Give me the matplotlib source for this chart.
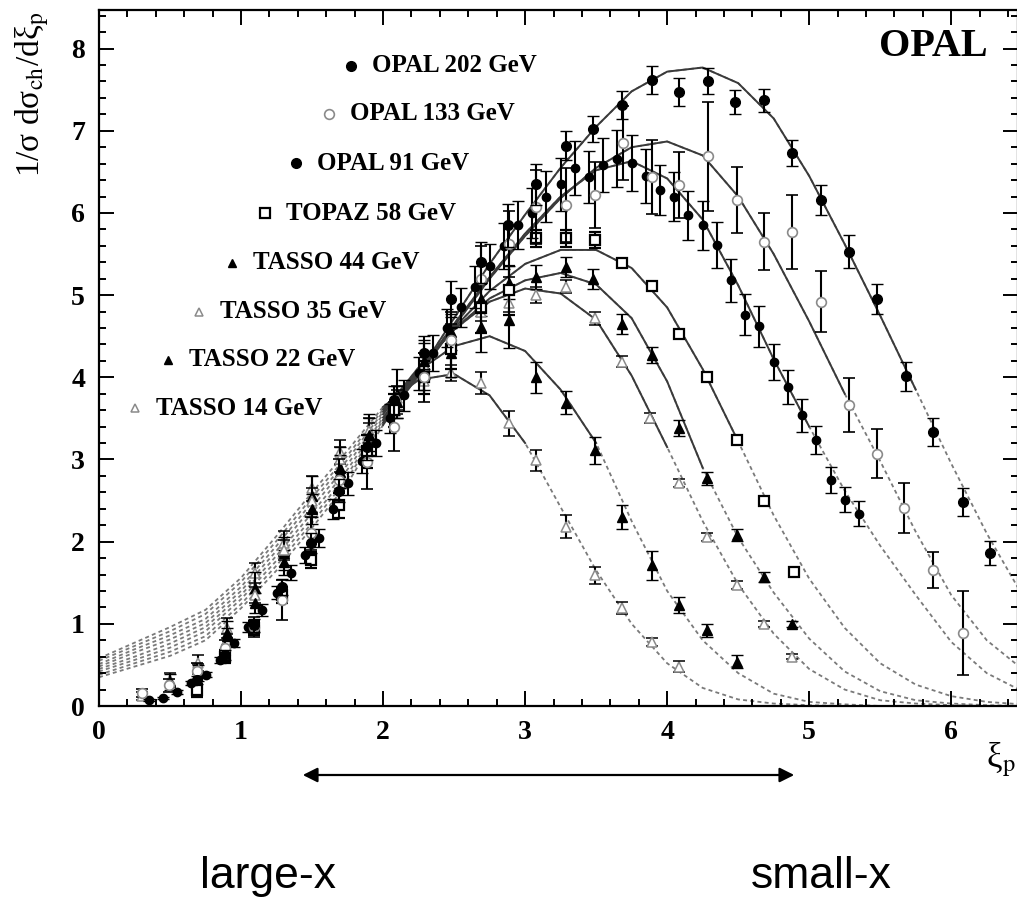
import matplotlib
matplotlib.use('Agg')
import matplotlib.pyplot as plt
from matplotlib.ticker import MultipleLocator

plt.rcParams['font.family'] = ['Liberation Serif', 'DejaVu Serif']
plt.rcParams['mathtext.fontset'] = 'stix'

# ---------------- data ----------------
labels = ['OPAL 202 GeV', 'OPAL 133 GeV', 'OPAL 91 GeV', 'TOPAZ 58 GeV',
          'TASSO 44 GeV', 'TASSO 35 GeV', 'TASSO 22 GeV', 'TASSO 14 GeV']

x202 = [0.69, 0.89, 1.09, 1.29, 1.49, 1.69, 1.89, 2.08, 2.29, 2.48, 2.69, 2.88, 3.08, 3.29, 3.48,
        3.68, 3.89, 4.08, 4.29, 4.48, 4.68, 4.88, 5.08, 5.28, 5.48, 5.68, 5.87, 6.08, 6.27]
y202 = [0.32, 0.62, 0.98, 1.45, 1.98, 2.62, 3.15, 3.72, 4.30, 4.95, 5.40, 5.85, 6.35, 6.82, 7.02,
        7.31, 7.62, 7.47, 7.61, 7.35, 7.37, 6.73, 6.16, 5.53, 4.95, 4.01, 3.33, 2.48, 1.86]
e202 = [0.05, 0.06, 0.08, 0.10, 0.12, 0.14, 0.16, 0.18, 0.20, 0.22, 0.25, 0.26, 0.25, 0.18, 0.16,
        0.17, 0.17, 0.17, 0.16, 0.15, 0.14, 0.16, 0.18, 0.20, 0.18, 0.18, 0.17, 0.17, 0.15]

x133 = [0.30, 0.49, 0.69, 0.89, 1.09, 1.29, 1.49, 1.69, 1.89, 2.08, 2.29, 2.48, 2.69, 2.89, 3.08,
        3.29, 3.49, 3.69, 3.89, 4.08, 4.29, 4.49, 4.68, 4.88, 5.08, 5.28, 5.48, 5.67, 5.87, 6.08]
y133 = [0.16, 0.25, 0.42, 0.70, 0.96, 1.29, 2.10, 2.75, 2.97, 3.40, 4.00, 4.45, 5.20, 5.62, 6.07,
        6.10, 6.22, 6.85, 6.44, 6.34, 6.69, 6.16, 5.65, 5.77, 4.92, 3.66, 3.07, 2.41, 1.65, 0.89]
e133 = [0.05, 0.08, 0.10, 0.10, 0.12, 0.24, 0.20, 0.25, 0.33, 0.30, 0.30, 0.35, 0.40, 0.40, 0.45,
        0.45, 0.40, 0.45, 0.45, 0.40, 0.66, 0.40, 0.35, 0.45, 0.37, 0.33, 0.30, 0.30, 0.22, 0.51]

x91 = [0.35, 0.45, 0.55, 0.65, 0.75, 0.85, 0.95, 1.05, 1.15, 1.25, 1.35, 1.45, 1.55, 1.65, 1.75,
       1.85, 1.95, 2.05, 2.15, 2.25, 2.35, 2.45, 2.55, 2.65, 2.75, 2.85, 2.95, 3.05, 3.15, 3.25,
       3.35, 3.45, 3.55, 3.65, 3.75, 3.85, 3.95, 4.05, 4.15, 4.25, 4.35, 4.45, 4.55, 4.65, 4.75,
       4.85, 4.95, 5.05, 5.15, 5.25, 5.35]
y91 = [0.07, 0.10, 0.17, 0.28, 0.38, 0.56, 0.77, 0.96, 1.17, 1.38, 1.62, 1.84, 2.04, 2.40, 2.71,
       2.98, 3.20, 3.50, 3.78, 4.05, 4.30, 4.60, 4.85, 5.10, 5.35, 5.60, 5.85, 6.00, 6.20, 6.35,
       6.55, 6.44, 6.58, 6.66, 6.61, 6.45, 6.28, 6.20, 5.97, 5.85, 5.61, 5.18, 4.76, 4.62, 4.19,
       3.88, 3.54, 3.24, 2.75, 2.51, 2.34]
e91 = [0.01, 0.01, 0.02, 0.02, 0.03, 0.04, 0.05, 0.06, 0.07, 0.08, 0.09, 0.10, 0.11, 0.12, 0.14,
       0.15, 0.16, 0.18, 0.19, 0.20, 0.22, 0.23, 0.24, 0.26, 0.27, 0.28, 0.29, 0.30, 0.31, 0.32,
       0.33, 0.32, 0.33, 0.35, 0.34, 0.33, 0.30, 0.30, 0.30, 0.30, 0.28, 0.26, 0.25, 0.25, 0.22,
       0.21, 0.20, 0.17, 0.16, 0.15, 0.15]

x58 = [0.69, 0.89, 1.09, 1.29, 1.49, 1.69, 1.89, 2.08, 2.29, 2.48, 2.69, 2.89, 3.08, 3.29, 3.49,
       3.68, 3.89, 4.08, 4.28, 4.49, 4.68, 4.89]
y58 = [0.19, 0.60, 0.95, 1.35, 1.78, 2.44, 3.10, 3.60, 4.00, 4.35, 4.84, 5.06, 5.69, 5.69, 5.67,
       5.39, 5.11, 4.53, 4.00, 3.24, 2.49, 1.63]
e58 = [0.08, 0.08, 0.08, 0.10, 0.10, 0.15, 0.20, 0.20, 0.20, 0.25, 0.30, 0.30, 0.10, 0.10, 0.10,
       0.05, 0.05, 0.05, 0.05, 0.05, 0.05, 0.05]

x44 = [0.90, 1.10, 1.30, 1.50, 1.70, 1.90, 2.10, 2.29, 2.48, 2.69, 2.89, 3.08, 3.29, 3.48, 3.68,
       3.89, 4.08, 4.28, 4.49, 4.68, 4.88]
y44 = [0.85, 1.25, 1.75, 2.40, 2.85, 3.30, 3.70, 4.20, 4.55, 4.95, 5.15, 5.22, 5.34, 5.20, 4.65,
       4.27, 3.38, 2.77, 2.08, 1.57, 1.00]
e44 = [0.10, 0.12, 0.15, 0.18, 0.20, 0.20, 0.20, 0.22, 0.22, 0.20, 0.20, 0.15, 0.12, 0.12, 0.12,
       0.10, 0.10, 0.08, 0.07, 0.06, 0.04]

x35 = [0.70, 0.90, 1.10, 1.30, 1.50, 1.70, 1.90, 2.10, 2.29, 2.48, 2.69, 2.89, 3.08, 3.29, 3.49,
       3.68, 3.88, 4.08, 4.28, 4.49, 4.68, 4.88]
y35 = [0.45, 0.80, 1.35, 1.90, 2.50, 3.00, 3.35, 3.75, 4.15, 4.50, 4.80, 4.90, 5.00, 5.10, 4.72,
       4.19, 3.50, 2.71, 2.06, 1.47, 1.00, 0.60]
e35 = [0.06, 0.08, 0.10, 0.12, 0.15, 0.15, 0.15, 0.15, 0.15, 0.15, 0.12, 0.10, 0.10, 0.08, 0.08,
       0.07, 0.06, 0.05, 0.05, 0.05, 0.04, 0.03]

x22 = [0.50, 0.70, 0.90, 1.10, 1.30, 1.50, 1.70, 1.90, 2.10, 2.29, 2.48, 2.69, 2.89, 3.08, 3.29,
       3.49, 3.68, 3.89, 4.08, 4.28, 4.49]
y22 = [0.29, 0.40, 0.89, 1.43, 1.86, 2.55, 2.90, 3.30, 3.80, 4.15, 4.30, 4.61, 4.70, 4.00, 3.69,
       3.11, 2.30, 1.71, 1.23, 0.92, 0.54]
e22 = [0.10, 0.10, 0.15, 0.20, 0.20, 0.25, 0.25, 0.25, 0.30, 0.30, 0.30, 0.30, 0.34, 0.19, 0.14,
       0.16, 0.15, 0.18, 0.10, 0.08, 0.08]

x14 = [0.30, 0.50, 0.70, 0.90, 1.10, 1.30, 1.50, 1.70, 1.90, 2.10, 2.29, 2.48, 2.69, 2.89, 3.08,
       3.29, 3.49, 3.68, 3.89, 4.08]
y14 = [0.12, 0.32, 0.52, 0.95, 1.62, 1.98, 2.65, 3.09, 3.30, 3.70, 3.95, 4.05, 3.93, 3.44, 2.99,
       2.18, 1.59, 1.19, 0.78, 0.48]
e14 = [0.05, 0.08, 0.10, 0.12, 0.12, 0.15, 0.15, 0.15, 0.15, 0.15, 0.15, 0.10, 0.13, 0.15, 0.13,
       0.14, 0.10, 0.07, 0.05, 0.07]

# fitted curves at steps of 0.25
curve_x = [0.0, 0.25, 0.5, 0.75, 1.0, 1.25, 1.5, 1.75, 2.0, 2.25, 2.5, 2.75, 3.0, 3.25, 3.5,
           3.75, 4.0, 4.25, 4.5, 4.75, 5.0, 5.25, 5.5, 5.75, 6.0, 6.25, 6.5]
c202 = [0.35, 0.48, 0.61, 0.80, 1.19, 1.65, 2.17, 2.71, 3.42, 4.05, 4.72, 5.38, 5.98, 6.55, 7.05,
        7.48, 7.72, 7.77, 7.58, 7.15, 6.45, 5.62, 4.75, 3.85, 2.95, 2.10, 1.35]
c133 = [0.38, 0.52, 0.66, 0.85, 1.24, 1.71, 2.23, 2.77, 3.45, 4.02, 4.62, 5.20, 5.72, 6.18, 6.55,
        6.80, 6.87, 6.70, 6.20, 5.50, 4.68, 3.80, 2.98, 2.12, 1.35, 0.80, 0.45]
c91 = [0.42, 0.56, 0.71, 0.91, 1.30, 1.77, 2.29, 2.82, 3.48, 4.05, 4.65, 5.22, 5.75, 6.20, 6.52,
       6.63, 6.42, 5.92, 5.12, 4.22, 3.40, 2.62, 1.95, 1.35, 0.78, 0.40, 0.18]
c58 = [0.45, 0.60, 0.76, 0.96, 1.35, 1.83, 2.35, 2.88, 3.51, 4.08, 4.60, 5.05, 5.38, 5.55, 5.55,
       5.33, 4.85, 4.10, 3.22, 2.32, 1.55, 0.95, 0.52, 0.26, 0.12, 0.05, 0.02]
c44 = [0.48, 0.65, 0.81, 1.01, 1.40, 1.89, 2.42, 2.94, 3.55, 4.10, 4.58, 4.96, 5.18, 5.27, 5.13,
       4.72, 3.95, 2.90, 2.05, 1.38, 0.82, 0.42, 0.18, 0.07, 0.03, 0.01, 0.00]
c35 = [0.51, 0.69, 0.86, 1.06, 1.45, 1.95, 2.48, 3.00, 3.58, 4.12, 4.58, 4.92, 5.08, 5.02, 4.70,
       4.02, 3.15, 2.25, 1.48, 0.88, 0.45, 0.20, 0.07, 0.03, 0.01, 0.00, 0.00]
c22 = [0.55, 0.73, 0.91, 1.12, 1.51, 2.01, 2.54, 3.05, 3.61, 4.08, 4.38, 4.50, 4.32, 3.85, 3.20,
       2.25, 1.40, 0.80, 0.40, 0.15, 0.05, 0.02, 0.00, 0.00, 0.00, 0.00, 0.00]
c14 = [0.58, 0.77, 0.96, 1.17, 1.56, 2.07, 2.60, 3.11, 3.64, 3.97, 4.04, 3.78, 3.20, 2.42, 1.65,
       1.00, 0.52, 0.22, 0.08, 0.03, 0.01, 0.00, 0.00, 0.00, 0.00, 0.00, 0.00]
# x range of each fit drawn as a solid line (outside: dashed)
fit_ranges = [(2.0, 5.75), (2.0, 5.25), (2.0, 5.0), (2.0, 4.5),
              (2.0, 4.25), (2.0, 4.0), (2.0, 3.5), (2.0, 3.0)]

xticks = [0, 1, 2, 3, 4, 5, 6]
yticks = [0, 1, 2, 3, 4, 5, 6, 7, 8]

# ---------------- figure ----------------
W, H = 1017, 902
fig = plt.figure(figsize=(W / 100, H / 100), dpi=100)
ax = fig.add_axes([99 / W, 1 - 706 / H, (1018 - 99) / W, 696 / H])
ax.set_xlim(0, 6.47)
ax.set_ylim(0, 8.47)

curves = [c202, c133, c91, c58, c44, c35, c22, c14]
for cy, (a, b) in zip(curves, fit_ranges):
    ax.plot(curve_x, cy, color='#7a7a7a', lw=1.3, ls=(0, (2.2, 1.8)), zorder=1)
    xs = [x for x in curve_x if a <= x <= b]
    ys = [y for x, y in zip(curve_x, cy) if a <= x <= b]
    ax.plot(xs, ys, color='#3a3a3a', lw=1.4, zorder=2)

styles = [
    dict(marker='o', ms=7.0, mfc='black', mec='black', mew=1.0),
    dict(marker='o', ms=7.0, mfc='white', mec='#8a8a8a', mew=1.2),
    dict(marker='o', ms=6.0, mfc='black', mec='black', mew=1.0),
    dict(marker='s', ms=7.5, mfc='white', mec='black', mew=1.6),
    dict(marker='^', ms=7.0, mfc='black', mec='black', mew=1.0),
    dict(marker='^', ms=7.5, mfc='white', mec='#8a8a8a', mew=1.1),
    dict(marker='^', ms=6.5, mfc='black', mec='black', mew=1.0),
    dict(marker='^', ms=7.5, mfc='white', mec='#8a8a8a', mew=1.1),
]
series = [(x202, y202, e202), (x133, y133, e133), (x91, y91, e91), (x58, y58, e58),
          (x44, y44, e44), (x35, y35, e35), (x22, y22, e22), (x14, y14, e14)]
order = [7, 6, 5, 4, 3, 2, 1, 0]
for i in order:
    xs, ys, es = series[i]
    ax.errorbar(xs, ys, yerr=es, ls='none', ecolor='black', elinewidth=1.5,
                capsize=4.5, capthick=1.5, zorder=3 + (7 - i) * 0.1, **styles[i])

# axes styling
ax.set_xticks(xticks)
ax.set_yticks(yticks)
ax.xaxis.set_minor_locator(MultipleLocator(0.2))
ax.yaxis.set_minor_locator(MultipleLocator(0.2))
ax.tick_params(which='both', direction='in', top=True, right=True, width=1.4)
ax.tick_params(which='major', length=11, labelsize=20, pad=10)
ax.tick_params(which='minor', length=5)
for lab in ax.get_xticklabels() + ax.get_yticklabels():
    lab.set_fontweight('bold')
for s in ax.spines.values():
    s.set_linewidth(1.6)

def fx(px):
    return px / W

def fy(py):
    return 1 - py / H

fig.text(fx(32), fy(12), '1/σ dσ$_{\\rm ch}$/dξ$_{\\rm p}$', rotation=90,
         ha='center', va='top', fontsize=24)
fig.text(fx(986), fy(760), 'ξ$_{\\rm p}$', ha='left', va='center', fontsize=25)
fig.text(fx(933), fy(46), 'OPAL', ha='center', va='center', fontsize=29, fontweight='bold')

# staggered legend
leg_mx = [351, 329, 296, 265, 232, 199, 168, 135]
leg_my = [66, 114, 163, 213, 263, 312, 360, 408]
leg_ms = [7.0, 7.0, 7.0, 7.5, 5.5, 5.5, 5.5, 5.5]
for lab, st, mx, my, ms in zip(labels, styles, leg_mx, leg_my, leg_ms):
    st2 = dict(st)
    st2['ms'] = ms
    fig.lines.append(plt.Line2D([fx(mx)], [fy(my)], transform=fig.transFigure, ls='none', **st2))
    fig.text(fx(mx + 21), fy(my), lab, ha='left', va='center', fontsize=18, fontweight='bold')

# arrow and bottom labels
ax.annotate('', xy=(797, H - 775), xytext=(300, H - 775), xycoords='figure pixels',
            textcoords='figure pixels', annotation_clip=False,
            arrowprops=dict(arrowstyle='<|-|>', color='black', lw=1.6, mutation_scale=22))
fig.text(fx(268), fy(888), 'large-x', ha='center', va='baseline', fontsize=32,
         family=['Liberation Sans', 'DejaVu Sans'])
fig.text(fx(821), fy(888), 'small-x', ha='center', va='baseline', fontsize=32,
         family=['Liberation Sans', 'DejaVu Sans'])

fig.savefig('out.png', dpi=100)
